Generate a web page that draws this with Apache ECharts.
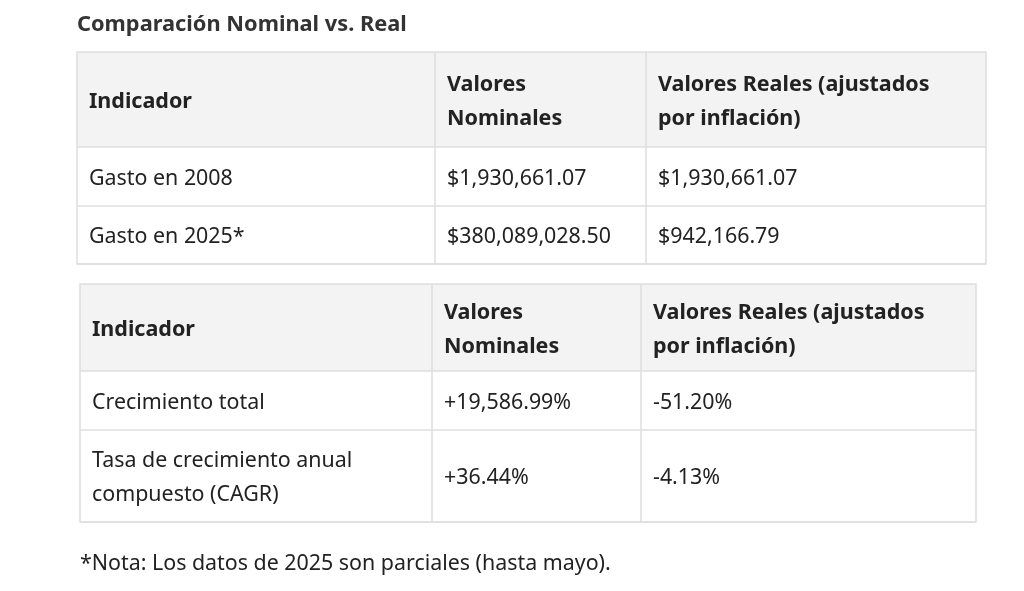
<!DOCTYPE html>
<html><head><meta charset="utf-8">
<script src="https://cdn.jsdelivr.net/npm/echarts@6/dist/echarts.min.js"></script>
<style>html,body{margin:0;background:#fff}#c{width:1024px;height:591px}</style>
</head><body><div id="c"></div>
<script>
const title = "Comparación Nominal vs. Real";
const headers = ["Indicador", "Valores\nNominales", "Valores Reales (ajustados\npor inflación)"];
const table1Rows = [
  ["Gasto en 2008", "$1,930,661.07", "$1,930,661.07"],
  ["Gasto en 2025*", "$380,089,028.50", "$942,166.79"]
];
const table2Rows = [
  ["Crecimiento total", "+19,586.99%", "-51.20%"],
  ["Tasa de crecimiento anual\ncompuesto (CAGR)", "+36.44%", "-4.13%"]
];
const note = "*Nota: Los datos de 2025 son parciales (hasta mayo).";

const FONT = "Noto Sans";
function table(x0, cols, y0, rowH, rows) {
  const els = [];
  const W = cols[cols.length-1] - x0;
  const H = rowH.reduce((a,b)=>a+b,0);
  els.push({type:'rect', shape:{x:x0,y:y0,width:W,height:rowH[0]}, style:{fill:'#f3f3f3'}});
  let y = y0;
  const all = [headers].concat(rows);
  all.forEach((r, i) => {
    r.forEach((t, j) => {
      const cx = j === 0 ? x0 : cols[j-1];
      els.push({type:'text', x: cx + 12, y: y + rowH[i]/2 + 2,
        style:{text:t, font:(i===0?'bold 21.5px ':'21.4px ')+FONT, fill:'#222',
          verticalAlign:'middle', lineHeight:i===0?34:34}});
    });
    y += rowH[i];
    els.push({type:'line', shape:{x1:x0,y1:y,x2:x0+W,y2:y}, style:{stroke:'#dedede',lineWidth:1.5}});
  });
  els.push({type:'rect', shape:{x:x0,y:y0,width:W,height:H}, style:{fill:null,stroke:'#dedede',lineWidth:1.5}});
  cols.slice(0,-1).forEach(cx => els.push({type:'line', shape:{x1:cx,y1:y0,x2:cx,y2:y0+H}, style:{stroke:'#dedede',lineWidth:1.5}}));
  return els;
}
const chart = echarts.init(document.getElementById('c'));
chart.setOption({
  backgroundColor:'#fff',
  graphic: [
    {type:'text', x:77, y:25, style:{text:title, font:'bold 21.8px '+FONT, fill:'#333', verticalAlign:'middle'}},
    ...table(77, [435, 646, 986], 52, [95, 59, 58], table1Rows),
    ...table(80, [432, 641, 976], 284, [87, 59, 92], table2Rows),
    {type:'text', x:80, y:564, style:{text:note, font:'21.4px '+FONT, fill:'#222', verticalAlign:'middle'}}
  ]
});
</script></body></html>
